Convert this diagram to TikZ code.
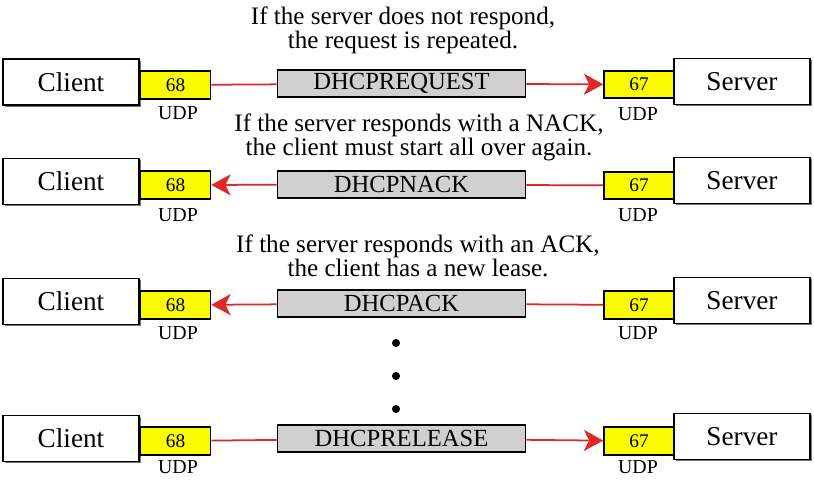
\documentclass[tikz,border=0pt]{standalone}
\usepackage{fontspec}
\setmainfont{Liberation Serif}
\usetikzlibrary{arrows.meta,shadows}
\definecolor{portyellow}{RGB}{250,250,0}
\definecolor{msggray}{RGB}{208,208,208}
\definecolor{linered}{RGB}{225,40,40}

\begin{document}
\begin{tikzpicture}[x=0.02cm,y=-0.02cm,
  >={Stealth[length=11pt,width=12pt,inset=3pt]},
  host/.style={draw, line width=1pt, fill=white, minimum width=2.72cm, minimum height=0.92cm,
    inner sep=0pt, font=\fontsize{15.5}{16}\selectfont,
    drop shadow={shadow xshift=1pt, shadow yshift=-1pt, fill=black!55, opacity=1}},
  port/.style={draw, line width=0.9pt, fill=portyellow, minimum width=1.40cm, minimum height=0.55cm,
    inner sep=0pt, font=\fontsize{11}{12}\selectfont},
  msg/.style={draw, line width=1pt, fill=msggray, minimum width=4.96cm, minimum height=0.54cm,
    inner sep=0pt, font=\fontsize{14}{15}\selectfont},
  udp/.style={font=\fontsize{11.3}{12}\selectfont, inner sep=0pt},
  note/.style={align=center, inner sep=0pt, font=\fontsize{14.3}{13.8}\selectfont},
  wire/.style={linered, line width=1pt}]

\useasboundingbox (0,0) rectangle (814,481);

% row 1
\node[note] (n1) at (403,30) {If the server does not respond,\\the request is repeated.};
\node[host] (c1) at (71,82) {Client};
\node[port] (pc1) at (175.5,85) {68};
\node[msg] (m1) at (401.5,83.5) {DHCPREQUEST};
\node[port] (ps1) at (639,84.5) {67};
\node[host] (s1) at (742,81.5) {Server};
\node[udp] (uc1) at (178,113) {UDP};
\node[udp] (us1) at (638,114) {UDP};
\draw[wire] (pc1) -- (m1);
\draw[wire,->] (m1) -- (ps1);

% row 2
\node[note] (n2) at (419,137.5) {If the server responds with a NACK,\\the client must start all over again.};
\node[host] (c2) at (71,181.5) {Client};
\node[port] (pc2) at (175.5,185) {68};
\node[msg] (m2) at (401.5,184.5) {DHCPNACK};
\node[port] (ps2) at (639,185.5) {67};
\node[host] (s2) at (742,180.5) {Server};
\node[udp] (uc2) at (178,215) {UDP};
\node[udp] (us2) at (638,215) {UDP};
\draw[wire] (ps2) -- (m2);
\draw[wire,->] (m2) -- (pc2);

% row 3
\node[note] (n3) at (418,255.5) {If the server responds with an ACK,\\the client has a new lease.};
\node[host] (c3) at (71,301.5) {Client};
\node[port] (pc3) at (175.5,305) {68};
\node[msg] (m3) at (401.5,303.5) {DHCPACK};
\node[port] (ps3) at (639,305) {67};
\node[host] (s3) at (742,300.5) {Server};
\node[udp] (uc3) at (178,333) {UDP};
\node[udp] (us3) at (638,333) {UDP};
\draw[wire] (ps3) -- (m3);
\draw[wire,->] (m3) -- (pc3);

\fill (396,343) circle (2.3pt);
\fill (396,376) circle (2.3pt);
\fill (396,409) circle (2.3pt);

% row 4
\node[host] (c4) at (71,438.5) {Client};
\node[port] (pc4) at (175.5,441) {68};
\node[msg] (m4) at (401.5,438.5) {DHCPRELEASE};
\node[port] (ps4) at (639,441) {67};
\node[host] (s4) at (742,436.5) {Server};
\node[udp] (uc4) at (178,467) {UDP};
\node[udp] (us4) at (638,467) {UDP};
\draw[wire] (pc4) -- (m4);
\draw[wire,->] (m4) -- (ps4);

\end{tikzpicture}
\end{document}
